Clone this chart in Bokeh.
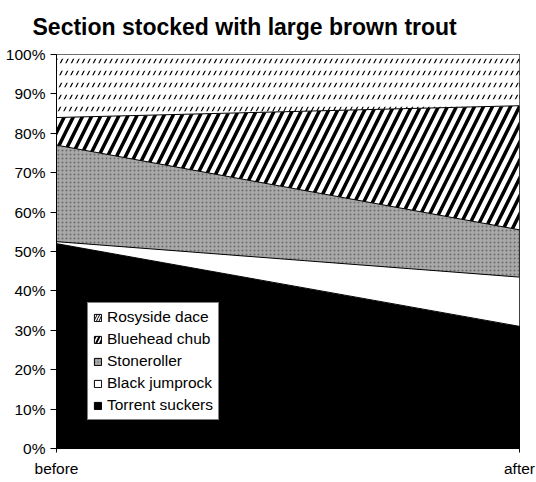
from bokeh.plotting import figure
from bokeh.models import (ColumnDataSource, Range1d, FixedTicker, NumeralTickFormatter,
                          Legend, LegendItem)
from bokeh.transform import stack
from bokeh.embed import file_html
from bokeh.resources import INLINE

# ---- data (shares of catch) ----
title_text = "Section stocked with large brown trout"
periods = ["before", "after"]
x_pos = [0, 1]
species = ["Torrent suckers", "Black jumprock", "Stoneroller", "Bluehead chub", "Rosyside dace"]
torrent_suckers = [0.52, 0.31]
black_jumprock = [0.005, 0.125]
stoneroller = [0.245, 0.12]
bluehead_chub = [0.07, 0.315]
rosyside_dace = [0.16, 0.13]
y_ticks = [0.0, 0.1, 0.2, 0.3, 0.4, 0.5, 0.6, 0.7, 0.8, 0.9, 1.0]

src = ColumnDataSource(dict(
    x=x_pos,
    **{"Torrent suckers": torrent_suckers,
       "Black jumprock": black_jumprock,
       "Stoneroller": stoneroller,
       "Bluehead chub": bluehead_chub,
       "Rosyside dace": rosyside_dace}))

FONT = "Liberation Sans"

p = figure(width=536, height=482, x_range=Range1d(0, 1), y_range=Range1d(0, 1),
           output_backend="svg", toolbar_location=None,
           min_border_left=56, min_border_right=17, min_border_top=54, min_border_bottom=34)
p.background_fill_color = "white"
p.border_fill_color = "white"
p.outline_line_color = "black"
p.outline_line_width = 1
p.xgrid.visible = False
p.ygrid.visible = False

# styles per series (same order as species)
fills = ["black", "white", "#a9a9a9", "white", "white"]
hatches = [None, None, "dot", "right_diagonal_line", "right_diagonal_line"]
hatch_colors = ["black", "black", "#6a6a6a", "black", "black"]
hatch_scales = [12, 12, 4, 18, 11]
hatch_weights = [1, 1, 1, 3.5, 1.2]

renderers = p.varea_stack(stackers=species, x="x", source=src,
                          fill_color=fills, hatch_pattern=hatches,
                          hatch_color=hatch_colors, hatch_scale=hatch_scales,
                          hatch_weight=hatch_weights)

# white bands over the thin slashes of the top series -> rows of short dashes
top = len(species) - 1
p.varea(x="x", y1=stack(*species[:top]), y2=stack(*species[:top + 1]), source=src,
        fill_alpha=0, hatch_pattern="horizontal_line", hatch_color="white",
        hatch_weight=7.5, hatch_scale=12)

for i in range(1, len(species)):
    p.line(x="x", y=stack(*species[:i]), source=src, line_color="black", line_width=1)

# legend swatches (outlined squares, placeholder NaN geometry)
nan = float("nan")
swatches = []
for i in range(len(species)):
    swatches.append(p.quad(left=[nan], right=[nan], top=[nan], bottom=[nan],
                           fill_color=fills[i], hatch_pattern=hatches[i],
                           hatch_color=hatch_colors[i],
                           hatch_scale=[12, 12, 3, 8, 5][i],
                           hatch_weight=[1, 1, 1, 2, 1][i],
                           line_color="black", line_width=1))

# axes
p.yaxis.ticker = FixedTicker(ticks=y_ticks)
p.yaxis.formatter = NumeralTickFormatter(format="0%")
p.yaxis.major_label_text_font = FONT
p.yaxis.major_label_text_font_size = "15.5px"
p.yaxis.major_label_text_color = "black"
p.yaxis.major_tick_out = 6
p.yaxis.major_tick_in = 0
p.yaxis.minor_tick_out = 0
p.yaxis.minor_tick_in = 0
p.yaxis.major_label_standoff = 5
p.yaxis.axis_line_color = "black"
p.yaxis.major_tick_line_color = "black"

p.xaxis.ticker = FixedTicker(ticks=x_pos)
p.xaxis.major_label_overrides = {x_pos[i]: periods[i] for i in range(len(periods))}
p.xaxis.major_label_text_font = FONT
p.xaxis.major_label_text_font_size = "15.5px"
p.xaxis.major_label_text_color = "black"
p.xaxis.major_tick_out = 4
p.xaxis.major_tick_in = 0
p.xaxis.minor_tick_out = 0
p.xaxis.minor_tick_in = 0
p.xaxis.major_label_standoff = 7
p.xaxis.axis_line_color = "black"

# title
p.title.text = title_text
p.title.text_font = FONT
p.title.text_font_size = "23px"
p.title.text_font_style = "bold"
p.title.text_color = "black"
p.title.align = "left"
p.title.vertical_align = "top"
p.title.offset = -24
p.title.standoff = 25

# legend (reverse order, top series first)
items = [LegendItem(label=species[i], renderers=[swatches[i]]) for i in reversed(range(len(species)))]
legend = Legend(items=items, location=(31, 28))
legend.label_text_font = FONT
legend.label_text_font_size = "15.5px"
legend.label_text_color = "black"
legend.label_height = 16
legend.glyph_height = 9
legend.glyph_width = 9
legend.spacing = 4
legend.padding = 5
legend.margin = 0
legend.label_standoff = 5
legend.border_line_color = "black"
legend.border_line_width = 1
legend.background_fill_color = "white"
legend.background_fill_alpha = 1
p.add_layout(legend, "center")

open("out.html", "w").write(file_html(p, INLINE))
